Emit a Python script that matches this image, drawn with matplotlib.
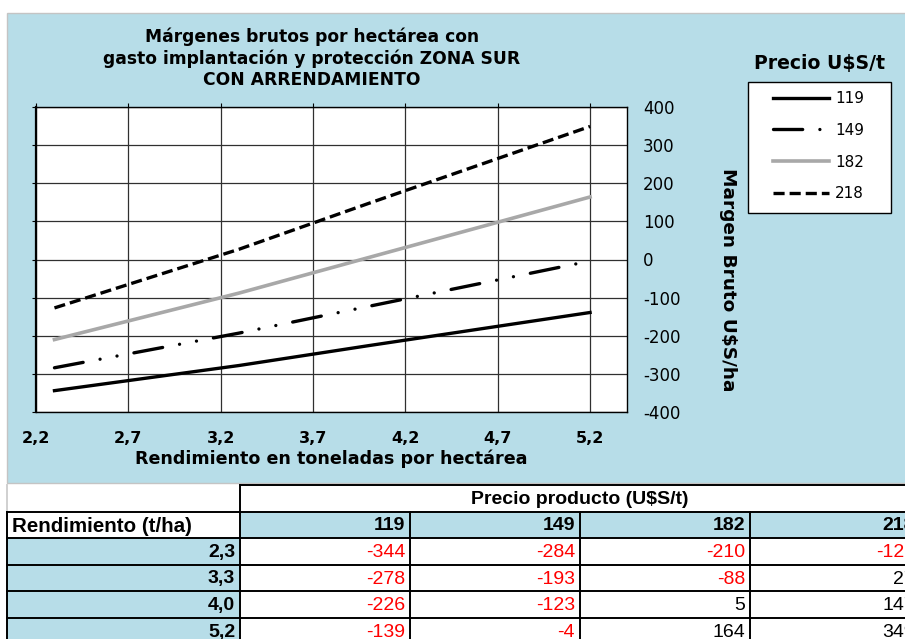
import matplotlib.pyplot as plt
from matplotlib.patches import Rectangle
from matplotlib.lines import Line2D

plt.rcParams['lines.scale_dashes'] = False

# datos de la tabla
rendimiento = [2.3, 3.3, 4.0, 5.2]
rend_txt = ['2,3', '3,3', '4,0', '5,2']
precios = [119, 149, 182, 218]
margen_119 = [-344, -278, -226, -139]
margen_149 = [-284, -193, -123, -4]
margen_182 = [-210, -88, 5, 164]
margen_218 = [-127, 27, 147, 349]
margenes = [margen_119, margen_149, margen_182, margen_218]

x_ticks = [2.2, 2.7, 3.2, 3.7, 4.2, 4.7, 5.2]
x_labels = ['2,2', '2,7', '3,2', '3,7', '4,2', '4,7', '5,2']
y_ticks = [-400, -300, -200, -100, 0, 100, 200, 300, 400]

azul = '#b7dde8'
W, H = 905, 639


def fx(px):
    return px / W


def fy(py):
    return 1 - py / H


fig = plt.figure(figsize=(9.05, 6.39), dpi=100)

# fondo del grafico
fig.add_artist(Rectangle((fx(7), fy(483)), fx(910) - fx(7), fy(13) - fy(483),
                         transform=fig.transFigure, facecolor=azul,
                         edgecolor='#c4c4c4', lw=1, zorder=-2))

ax = fig.add_axes([fx(36), fy(412), fx(627) - fx(36), fy(107) - fy(412)])
ax.set_facecolor('white')

estilos = [
    dict(color='black', lw=2.4, ls='-'),
    dict(color='black', lw=2.4, ls=(0, (21, 12.4, 0.01, 12.4, 0.01, 12.4)),
         dash_capstyle='round'),
    dict(color='#a8a8a8', lw=2.6, ls='-'),
    dict(color='black', lw=2.4, ls=(0, (8, 3.6))),
]
lineas = []
for m, st in zip(margenes, estilos):
    l, = ax.plot(rendimiento, m, **st)
    lineas.append(l)

ax.set_xlim(2.2, 5.4)
ax.set_ylim(-400, 400)
ax.set_xticks(x_ticks)
ax.set_xticklabels(x_labels, fontsize=11.5, fontweight='bold')
ax.set_yticks(y_ticks)
ax.set_yticklabels([str(v) for v in y_ticks], fontsize=12)
for t, v in zip(ax.get_yticklabels(), y_ticks):
    if v < 0:
        t.set_color('red')
ax.grid(True, color='#303030', lw=0.9)
ax.tick_params(axis='x', top=True, bottom=False, labelbottom=True,
               direction='out', length=3, pad=10.5)
ax.tick_params(axis='y', left=True, right=False, labelleft=False,
               labelright=True, direction='out', length=3, pad=8.5)
for s in ax.spines.values():
    s.set_color('black')
    s.set_linewidth(1.0)
ax.spines['left'].set_linewidth(1.6)
ax.set_xlabel('Rendimiento en toneladas por hectárea', fontsize=12.6,
              fontweight='bold', labelpad=3)

fig.text(fx(312), fy(58),
         'Márgenes brutos por hectárea con\ngasto implantación y protección ZONA SUR\nCON ARRENDAMIENTO',
         ha='center', va='center', fontsize=12.3, fontweight='bold', linespacing=1.22)
fig.text(fx(728), fy(280), 'Margen Bruto U$S/ha', rotation=-90, ha='center',
         va='center', fontsize=13.3, fontweight='bold')

# leyenda
fig.add_artist(Rectangle((fx(748), fy(213)), fx(891) - fx(748), fy(82) - fy(213),
                         transform=fig.transFigure, facecolor='white',
                         edgecolor='black', lw=1, zorder=1))
fig.text(fx(819), fy(63), 'Precio U$S/t', ha='center', va='center',
         fontsize=13.6, fontweight='bold')
leg = fig.legend(lineas, [str(p) for p in precios], loc='upper left',
                 bbox_to_anchor=(fx(773), fy(91)), frameon=False, fontsize=11,
                 handlelength=3.66, handletextpad=0.4, labelspacing=1.1,
                 borderpad=0, borderaxespad=0)
leg.set_zorder(3)

# tabla
cols = [7, 240, 410, 580, 750, 920]
filas = [485, 512, 538, 565, 591, 618, 645]
fuente = 'Liberation Sans'
tam = 14


def celda(x0, y0, x1, y1, color):
    fig.add_artist(Rectangle((fx(x0), fy(y1)), fx(x1) - fx(x0), fy(y0) - fy(y1),
                             transform=fig.transFigure, facecolor=color,
                             edgecolor='none', zorder=1))


def linea(x0, y0, x1, y1, color='black', lw=1.4):
    fig.add_artist(Line2D([fx(x0), fx(x1)], [fy(y0), fy(y1)],
                          transform=fig.transFigure, color=color, lw=lw, zorder=2))


def texto(x, y, s, ha='right', bold=False, color='black', size=tam):
    fig.text(fx(x), fy(y), s, ha=ha, va='center', family=fuente, fontsize=size,
             fontweight='bold' if bold else 'normal', color=color, zorder=3)


celda(7, filas[0], 920, filas[-1], 'white')
for j in range(4):
    celda(cols[j + 1], filas[1], cols[j + 2], filas[2], azul)
for i in range(4):
    celda(cols[0], filas[i + 2], cols[1], filas[i + 3], azul)

texto((cols[1] + cols[-1]) / 2, (filas[0] + filas[1]) / 2 + 1,
      'Precio producto (U$S/t)', ha='center', bold=True)
texto(cols[0] + 5, (filas[1] + filas[2]) / 2 + 1, 'Rendimiento (t/ha)',
      ha='left', bold=True, size=14.8)
for j, p in enumerate(precios):
    texto(cols[j + 2] - 5, (filas[1] + filas[2]) / 2 + 1, str(p), bold=True)
for i, r in enumerate(rend_txt):
    yc = (filas[i + 2] + filas[i + 3]) / 2 + 1
    texto(cols[1] - 5, yc, r, bold=True)
    for j, m in enumerate(margenes):
        v = m[i]
        texto(cols[j + 2] - 5, yc, str(v), color='red' if v < 0 else 'black')

linea(cols[0], filas[0], cols[0], filas[1], color='#d0d0d0')
linea(cols[1], filas[0], cols[-1], filas[0])
for y in filas[1:-1]:
    linea(cols[0], y, cols[-1], y)
linea(cols[0], filas[1], cols[0], filas[-1])
linea(cols[1], filas[0], cols[1], filas[-1])
for x in cols[2:-1]:
    linea(x, filas[1], x, filas[-1])

fig.savefig('out.png', dpi=100)
